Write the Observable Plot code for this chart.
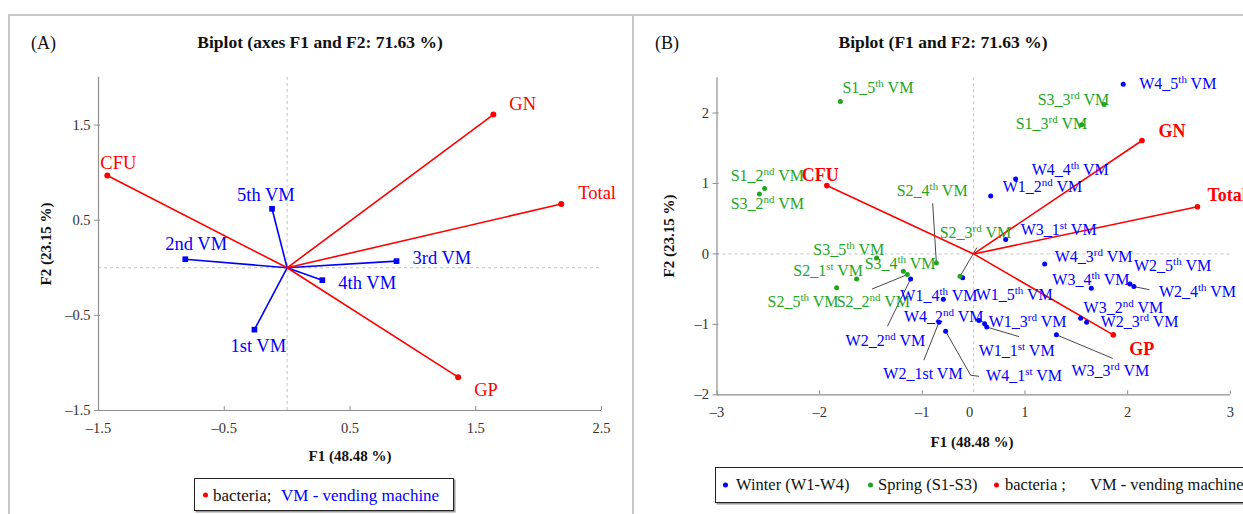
<!DOCTYPE html>
<html><head><meta charset="utf-8">
<script src="https://cdn.jsdelivr.net/npm/d3@7"></script>
<script src="https://cdn.jsdelivr.net/npm/@observablehq/plot@0.6"></script>
<style>
html,body{margin:0;padding:0}
body{width:1243px;height:514px;overflow:hidden;background:#fff;font-family:"Liberation Serif",serif;position:relative;color:#111}
.panel{position:absolute;top:0}
.frame{position:absolute;background:#c8c8c8;z-index:5}
.t{position:absolute;white-space:nowrap;line-height:1;z-index:6}
.title{font-weight:bold;font-size:17.5px;transform:translate(-50%,-50%)}
.tag{font-size:18px;transform:translateY(-50%)}
.axt{font-weight:bold;font-size:15px;transform:translate(-50%,-50%)}
.axty{font-weight:bold;font-size:15px;transform:translate(-50%,-50%) rotate(-90deg)}
.legend{position:absolute;border:1.5px solid #222;box-shadow:1.5px 1.5px 0 #9a9a9a;background:#fff;white-space:nowrap;z-index:6;box-sizing:border-box}
.li{position:absolute;top:50%;transform:translateY(-50%);line-height:1}
.bul{position:absolute;top:50%;width:5px;height:5px;border-radius:50%;transform:translateY(-50%)}
</style></head><body>
<div id="pa" class="panel" style="left:0;width:620px"></div>
<div id="pb" class="panel" style="left:620px;width:623px"></div>

<div class="frame" style="left:9px;top:14px;width:1234px;height:2px"></div>
<div class="frame" style="left:8px;top:14px;width:2px;height:500px"></div>
<div class="frame" style="left:632px;top:14px;width:2px;height:500px"></div>

<div class="t tag" style="left:31px;top:43px">(A)</div>
<div class="t title" style="left:320px;top:43px">Biplot (axes F1 and F2: 71.63 %)</div>
<div class="t axt" style="left:350px;top:456px">F1 (48.48 %)</div>
<div class="t axty" style="left:46px;top:244px">F2 (23.15 %)</div>
<div class="legend" style="left:194px;top:478px;width:260px;height:33px;font-size:17px">
  <span class="bul" style="left:8px;background:#ff0000"></span>
  <span class="li" style="left:18px">bacteria;</span>
  <span class="li" style="left:86px;color:#0000ff">VM - vending machine</span>
</div>

<div class="t tag" style="left:655px;top:43px">(B)</div>
<div class="t title" style="left:943px;top:43px">Biplot (F1 and F2: 71.63 %)</div>
<div class="t axt" style="left:972px;top:442px">F1 (48.48 %)</div>
<div class="t axty" style="left:669px;top:236px">F2 (23.15 %)</div>
<div class="legend" style="left:715px;top:467px;width:560px;height:36px;font-size:16.5px">
  <span class="bul" style="left:7px;background:#0000ff"></span>
  <span class="li" style="left:20px">Winter (W1-W4)</span>
  <span class="bul" style="left:152px;background:#1fa51f"></span>
  <span class="li" style="left:162px">Spring (S1-S3)</span>
  <span class="bul" style="left:278px;background:#ff0000"></span>
  <span class="li" style="left:289px">bacteria ;</span>
  <span class="li" style="left:374px">VM - vending machine</span>
</div>

<script>
// ---------------- DATA ----------------
const bacteria = ["CFU", "GN", "Total", "GP"];
const bacteriaF1 = [-1.43, 1.64, 2.18, 1.36];
const bacteriaF2 = [0.97, 1.61, 0.67, -1.15];

const machines = ["1st VM", "2nd VM", "3rd VM", "4th VM", "5th VM"];
const machinesF1 = [-0.26, -0.81, 0.87, 0.28, -0.12];
const machinesF2 = [-0.65, 0.09, 0.07, -0.13, 0.62];

const winterLabels = ["W4_5th VM","W4_4th VM","W1_2nd VM","W3_1st VM","W4_3rd VM","W2_5th VM","W2_4th VM","W3_4th VM","W1_4th VM","W1_5th VM","W4_2nd VM","W1_3rd VM","W1_1st VM","W3_2nd VM","W2_3rd VM","W3_3rd VM","W2_2nd VM","W2_1st VM","W4_1st VM"];
const winterF1 = [1.457, 0.409, 0.166, 0.312, 0.692, 1.523, 1.561, 1.146, -0.295, -0.107, 0.052, 0.107, 0.127, 1.042, 1.101, 0.806, -0.614, -0.338, -0.273];
const winterF2 = [2.41, 1.064, 0.823, 0.203, -0.142, -0.426, -0.464, -0.488, -0.644, -0.340, -0.946, -0.99, -1.038, -0.913, -0.970, -1.149, -0.355, -0.970, -1.098];

const springLabels = ["S1_5th VM","S3_3rd VM","S1_3rd VM","S1_2nd VM","S3_2nd VM","S2_4th VM","S2_3rd VM","S3_5th VM","S2_1st VM","S3_4th VM","S2_5th VM","S2_2nd VM"];
const springF1 = [-1.298, 1.271, 1.052, -2.036, -2.087, -0.363, -0.133, -0.945, -1.140, -0.685, -1.335, -0.646];
const springF2 = [2.165, 2.122, 1.834, 0.930, 0.851, -0.128, -0.318, -0.057, -0.355, -0.247, -0.482, -0.294];

const ticksAX = [-1.5, -0.5, 0.5, 1.5, 2.5];
const ticksAY = [-1.5, -0.5, 0.5, 1.5];
const ticksBX = [-2.5, -1.5, -0.5, 0.5, 1.5, 2.5];
const ticksBY = [-2, -1, 0, 1, 2];
const zeroTickB = [0];
const noSuperscript = ["W2_1st VM"];

// ---------------- LAYOUT / STYLE ----------------
const RED = "#ff0000", BLUE = "#0000ff", GREEN = "#1fa51f", AXIS = "#8f8f8f", GRID = "#c2c2c2", TXT = "#333";
const PA = {width: 620, height: 470, mL: 98, mR: 19, mT: 77, mB: 60, xDom: [-1.5, 2.5], yDom: [-1.5, 2.0]};
const PB = {width: 623, height: 470, mL: 96.5, mR: 13.2, mT: 77.3, mB: 75.7, xDom: [-2.5, 2.5], yDom: [-2, 2.5]};
function kOf(P) {
  return {kx: (P.width - P.mL - P.mR) / (P.xDom[1] - P.xDom[0]), ky: (P.height - P.mT - P.mB) / (P.yDom[1] - P.yDom[0])};
}
// label offsets in pixels relative to point [dx, dy, leader bend/end offsets]
const labelA = {
  "CFU": [-7, -12], "GN": [16, -11], "Total": [17, -11], "GP": [16, 13],
  "1st VM": [-24, 16], "2nd VM": [-20, -15], "3rd VM": [16, -3], "4th VM": [16, 3], "5th VM": [-35, -14]
};
const labelB = {
  "CFU": [-25, -10], "GN": [16.5, -9], "Total": [10, -11], "GP": [16, 14],
  "W4_5th VM": [16, 0], "W4_4th VM": [16, -9], "W1_2nd VM": [12, -9], "W3_1st VM": [15, -10],
  "W4_3rd VM": [10, -7], "W2_5th VM": [4, -18], "W2_4th VM": [25, 5, [[15, 3]]], "W3_4th VM": [-39, -8],
  "W1_4th VM": [-43, -3], "W1_5th VM": [13, 17], "W4_2nd VM": [-75, -4], "W1_3rd VM": [4, -2],
  "W1_1st VM": [-8, 23.5, [[32, 9.5]]], "W3_2nd VM": [3, -10], "W2_3rd VM": [14, 0],
  "W3_3rd VM": [15, 36, [[56, 23.4]]], "W2_2nd VM": [-65, 62, [[-23, 47]]],
  "W2_1st VM": [-55.6, 51.6, [[-15, 37.6]]], "W4_1st VM": [40.5, 44.3, [[25, 44], [33, 45]]],
  "S1_5th VM": [2, -14], "S3_3rd VM": [-66.5, -5], "S1_3rd VM": [-66, -1], "S1_2nd VM": [-34, -12.7],
  "S3_2nd VM": [-28.7, 10], "S2_4th VM": [-39.7, -72.3, [[-3.7, -59.3]]], "S2_3rd VM": [-20.3, -43.7, [[16.7, -28.4]]],
  "S3_5th VM": [-63.3, -8], "S2_1st VM": [-63.3, -8.3], "S3_4th VM": [-38.7, -7.4], "S2_5th VM": [-69, 14.4],
  "S2_2nd VM": [-70.7, 27.7, [[-35, 14.3]]]
};

const rows = (names, xs, ys) => names.map((name, i) => ({name, x: xs[i], y: ys[i]}));
function place(data, layout, P) {
  const {kx, ky} = kOf(P);
  return data.map(d => {
    const [dx, dy] = layout[d.name];
    return {...d, lx: d.x + dx / kx, ly: d.y - dy / ky};
  });
}
function leaders(data, layout, P) {
  const {kx, ky} = kOf(P);
  const out = [];
  data.forEach(d => {
    const l = layout[d.name];
    if (!l[2]) return;
    out.push({id: d.name, x: d.x, y: d.y});
    l[2].forEach(([ox, oy]) => out.push({id: d.name, x: d.x + ox / kx, y: d.y - oy / ky}));
  });
  return out;
}
const dashFmt = d => (d < 0 ? "\u2013" : "") + Math.abs(d);
const roundFmt = d => { const s = d.toFixed(0); return s.startsWith("-") ? "\u2013" + s.slice(1) : s; };

function axesMarks(P, tx, ty, fmtX, fmtY) {
  const {kx, ky} = kOf(P);
  const x0 = P.xDom[0], y0 = P.yDom[0];
  return [
    Plot.ruleX([0], {stroke: GRID, strokeDasharray: "3,3", strokeWidth: 1}),
    Plot.ruleY([0], {stroke: GRID, strokeDasharray: "3,3", strokeWidth: 1}),
    Plot.ruleX([x0], {stroke: AXIS, strokeWidth: 1.2}),
    Plot.ruleY([y0], {stroke: AXIS, strokeWidth: 1.2}),
    Plot.ruleX(tx, {x: d => d, y1: y0, y2: y0 + 4 / ky, stroke: AXIS}),
    Plot.ruleY(ty, {y: d => d, x1: x0 - 4 / kx, x2: x0 + 2 / kx, stroke: AXIS}),
    Plot.axisX({ticks: tx, tickSize: 0, tickPadding: 12, tickFormat: fmtX, fontSize: 14.5, color: TXT, label: null}),
    Plot.axisY({ticks: ty, tickSize: 0, tickPadding: 8, tickFormat: fmtY, fontSize: 14.5, color: TXT, label: null})
  ];
}

function supify(svg) {
  d3.select(svg).selectAll("g.ptlabel text").each(function () {
    const t = this.textContent;
    const m = t.match(/^(.*\d)(st|nd|rd|th)(\s.*)$/);
    if (!m || noSuperscript.includes(t)) return;
    const sel = d3.select(this);
    sel.text("");
    sel.append("tspan").text(m[1]);
    sel.append("tspan").attr("font-size", "11px").attr("dy", "-6px").text(m[2]);
    sel.append("tspan").attr("dy", "6px").text(m[3]);
  });
}

// ---------------- PANEL A ----------------
const bacA = place(rows(bacteria, bacteriaF1, bacteriaF2), labelA, PA);
const vmA = place(rows(machines, machinesF1, machinesF2), labelA, PA);
const plotA = Plot.plot({
  width: PA.width, height: PA.height,
  marginLeft: PA.mL, marginRight: PA.mR, marginTop: PA.mT, marginBottom: PA.mB,
  x: {domain: PA.xDom, label: null}, y: {domain: PA.yDom, label: null},
  style: {fontFamily: "Liberation Serif, serif", background: "transparent", overflow: "visible"},
  marks: [
    ...axesMarks(PA, ticksAX, ticksAY, dashFmt, dashFmt),
    Plot.link(vmA, {x1: 0, y1: 0, x2: "x", y2: "y", stroke: BLUE, strokeWidth: 1.6}),
    Plot.link(bacA, {x1: 0, y1: 0, x2: "x", y2: "y", stroke: RED, strokeWidth: 1.6}),
    Plot.dot(vmA, {x: "x", y: "y", symbol: "square", r: 3.2, fill: BLUE}),
    Plot.dot(bacA, {x: "x", y: "y", r: 3, fill: RED}),
    Plot.text(bacA, {x: "lx", y: "ly", text: "name", fill: RED, fontSize: 18.5, textAnchor: "start", lineAnchor: "middle"}),
    Plot.text(vmA, {x: "lx", y: "ly", text: "name", fill: BLUE, fontSize: 18.5, textAnchor: "start", lineAnchor: "middle"})
  ]
});
document.getElementById("pa").appendChild(plotA);

// ---------------- PANEL B ----------------
const bacB = place(rows(bacteria, bacteriaF1, bacteriaF2), labelB, PB);
const winB = place(rows(winterLabels, winterF1, winterF2), labelB, PB);
const sprB = place(rows(springLabels, springF1, springF2), labelB, PB);
const leadB = leaders([...winB, ...sprB], labelB, PB);
const plotB = Plot.plot({
  width: PB.width, height: PB.height,
  marginLeft: PB.mL, marginRight: PB.mR, marginTop: PB.mT, marginBottom: PB.mB,
  x: {domain: PB.xDom, label: null}, y: {domain: PB.yDom, label: null},
  style: {fontFamily: "Liberation Serif, serif", background: "transparent", overflow: "visible"},
  marks: [
    ...axesMarks(PB, ticksBX, ticksBY, roundFmt, roundFmt),
    Plot.axisX({ticks: zeroTickB, tickSize: 0, tickPadding: 12, tickFormat: roundFmt, fontSize: 14.5, color: TXT, label: null, dx: -4}),
    Plot.line(leadB, {x: "x", y: "y", z: "id", stroke: "#333", strokeWidth: 0.9}),
    Plot.link(bacB, {x1: 0, y1: 0, x2: "x", y2: "y", stroke: RED, strokeWidth: 1.6}),
    Plot.dot(bacB, {x: "x", y: "y", r: 2.8, fill: RED}),
    Plot.dot(winB, {x: "x", y: "y", r: 2.5, fill: BLUE}),
    Plot.dot(sprB, {x: "x", y: "y", r: 2.5, fill: GREEN}),
    Plot.text(sprB, {x: "lx", y: "ly", text: "name", fill: GREEN, fontSize: 16, textAnchor: "start", lineAnchor: "middle", className: "ptlabel"}),
    Plot.text(winB, {x: "lx", y: "ly", text: "name", fill: BLUE, fontSize: 16, textAnchor: "start", lineAnchor: "middle", className: "ptlabel"}),
    Plot.text(bacB, {x: "lx", y: "ly", text: "name", fill: RED, fontSize: 18, fontWeight: "bold", textAnchor: "start", lineAnchor: "middle"})
  ]
});
supify(plotB);
document.getElementById("pb").appendChild(plotB);
</script>
</body></html>
